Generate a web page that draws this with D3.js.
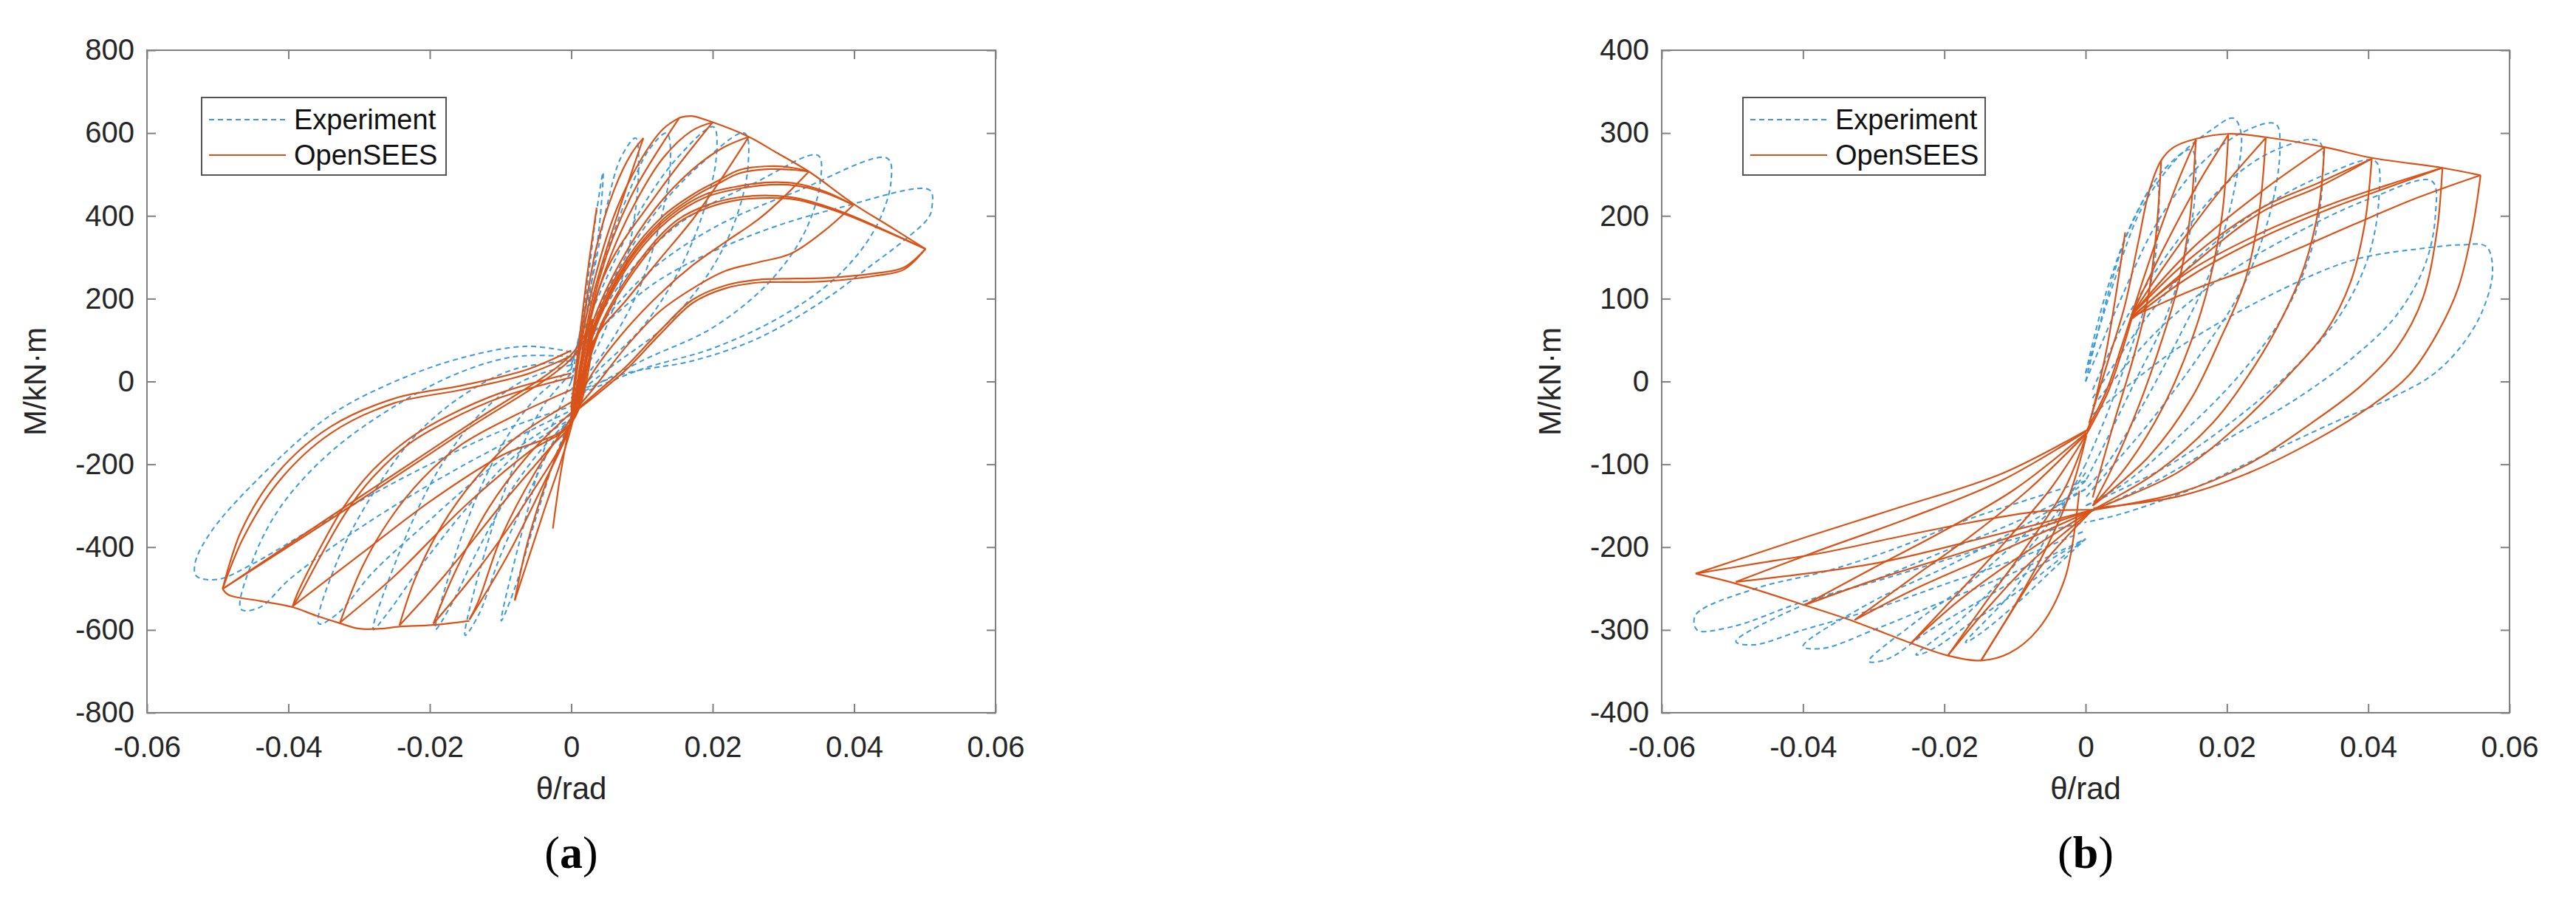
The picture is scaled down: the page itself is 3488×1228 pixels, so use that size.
<!DOCTYPE html>
<html>
<head>
<meta charset="utf-8">
<script src="https://cdn.jsdelivr.net/npm/d3@7"></script>
<style>
  body { margin: 0; background: #fff; }
  text { font-family: "Liberation Sans", Arial, sans-serif; }
</style>
</head>
<body>
<svg id="chart" width="3488" height="1228"></svg>
<script>
// ---- tick values / labels ----
var xTicks = [-0.06, -0.04, -0.02, 0, 0.02, 0.04, 0.06];
var xTickLabels = ["-0.06", "-0.04", "-0.02", "0", "0.02", "0.04", "0.06"];
var yTicksA = [-800, -600, -400, -200, 0, 200, 400, 600, 800];
var yTicksB = [-400, -300, -200, -100, 0, 100, 200, 300, 400];
var seriesNames = ["Experiment", "OpenSEES"];
var captions = ["a", "b"];

// ---- panel (a) : experiment, one leaf per half cycle [theta, M] ----
var expA = [
  [[0.0000,0],[0.0020,200],[0.0035,400],[0.0045,505],[0.0040,380],[0.0025,200],[0.0010,60],[0.0000,0]],
  [[0.0000,30],[0.0030,250],[0.0050,420],[0.0070,540],[0.0091,588],[0.0095,500],[0.0085,350],[0.0060,180],[0.0030,60],[0.0000,-20]],
  [[0.0000,40],[0.0040,260],[0.0080,450],[0.0110,560],[0.0135,600],[0.0140,520],[0.0125,380],[0.0095,220],[0.0050,80],[0.0000,-30]],
  [[0.0000,50],[0.0050,250],[0.0100,420],[0.0150,540],[0.0201,615],[0.0205,540],[0.0185,400],[0.0150,260],[0.0100,130],[0.0040,30],[0.0000,-40]],
  [[0.0010,60],[0.0060,250],[0.0120,410],[0.0180,520],[0.0245,600],[0.0250,520],[0.0230,380],[0.0190,250],[0.0130,130],[0.0060,40],[0.0000,-40]],
  [[0.0010,70],[0.0080,260],[0.0160,390],[0.0260,480],[0.0349,546],[0.0352,480],[0.0330,360],[0.0280,240],[0.0200,130],[0.0100,50],[0.0000,-40]],
  [[0.0010,70],[0.0100,250],[0.0200,370],[0.0320,460],[0.0447,539],[0.0452,480],[0.0430,370],[0.0380,260],[0.0300,160],[0.0200,80],[0.0100,30],[0.0000,-40]],
  [[0.0010,80],[0.0120,240],[0.0250,350],[0.0380,420],[0.0507,462],[0.0510,420],[0.0505,395],[0.0470,340],[0.0420,275],[0.0358,197],[0.0265,105],[0.0172,50],[0.0078,20],[0.0000,-30]],
  [[0.0000,71],[-0.0062,85],[-0.0155,57],[-0.0248,1],[-0.0341,-82],[-0.0435,-222],[-0.0509,-362],[-0.0532,-439],[-0.0530,-470],[-0.0500,-478],[-0.0450,-440],[-0.0380,-370],[-0.0300,-290],[-0.0200,-200],[-0.0100,-120],[0.0000,-60]],
  [[0.0000,60],[-0.0080,60],[-0.0160,20],[-0.0250,-60],[-0.0340,-170],[-0.0410,-300],[-0.0450,-430],[-0.0467,-550],[-0.0440,-545],[-0.0400,-480],[-0.0330,-390],[-0.0250,-300],[-0.0150,-200],[-0.0060,-120],[0.0000,-70]],
  [[0.0000,50],[-0.0080,30],[-0.0150,-30],[-0.0220,-130],[-0.0280,-270],[-0.0330,-430],[-0.0357,-585],[-0.0330,-560],[-0.0280,-460],[-0.0210,-350],[-0.0130,-230],[-0.0050,-130],[0.0000,-80]],
  [[0.0000,40],[-0.0070,0],[-0.0130,-80],[-0.0190,-220],[-0.0240,-400],[-0.0280,-599],[-0.0260,-560],[-0.0210,-440],[-0.0150,-310],[-0.0080,-180],[0.0000,-90]],
  [[0.0000,30],[-0.0050,-40],[-0.0100,-160],[-0.0150,-350],[-0.0192,-599],[-0.0170,-540],[-0.0130,-400],[-0.0080,-250],[-0.0030,-140],[0.0000,-90]],
  [[0.0000,20],[-0.0040,-60],[-0.0080,-200],[-0.0120,-400],[-0.0150,-613],[-0.0130,-560],[-0.0100,-420],[-0.0060,-270],[-0.0020,-130],[0.0000,-90]],
  [[0.0000,0],[-0.0030,-120],[-0.0060,-300],[-0.0099,-578],[-0.0080,-500],[-0.0050,-330],[-0.0020,-170],[0.0000,-90]]
];

// ---- panel (a) : OpenSEES branches ----
var opsA = [
  // reloading towards positive peaks
  [[0.0000,-60],[0.0010,80],[0.0022,250],[0.0036,420]],
  [[0.0000,-70],[0.0015,120],[0.0035,320],[0.0060,460],[0.0085,550],[0.0102,588]],
  [[0.0000,-80],[0.0015,100],[0.0035,260],[0.0065,420],[0.0100,540],[0.0130,610],[0.0153,637]],
  [[0.0005,-60],[0.0025,140],[0.0055,300],[0.0090,430],[0.0130,540],[0.0170,605],[0.0200,626]],
  [[0.0005,-60],[0.0030,140],[0.0070,290],[0.0120,420],[0.0170,510],[0.0215,565],[0.0251,591]],
  [[0.0008,-50],[0.0035,150],[0.0080,300],[0.0130,400],[0.0175,455],[0.0208,485],[0.0238,511],[0.0281,520],[0.0313,516],[0.0336,507]],
  [[0.0008,-55],[0.0035,140],[0.0080,292],[0.0130,392],[0.0175,448],[0.0208,478],[0.0238,503],[0.0281,513],[0.0313,511],[0.0336,507]],
  [[0.0008,-50],[0.0035,140],[0.0090,310],[0.0140,400],[0.0190,452],[0.0238,472],[0.0281,481],[0.0318,478],[0.0360,458],[0.0398,427]],
  [[0.0008,-55],[0.0035,132],[0.0090,302],[0.0140,393],[0.0190,445],[0.0238,466],[0.0281,475],[0.0318,473],[0.0360,455],[0.0398,427]],
  [[0.0010,-50],[0.0040,130],[0.0100,300],[0.0150,390],[0.0194,427],[0.0238,445],[0.0281,449],[0.0318,443],[0.0384,409],[0.0440,368],[0.0501,320]],
  [[0.0010,-55],[0.0040,122],[0.0100,292],[0.0150,382],[0.0194,420],[0.0238,439],[0.0281,443],[0.0318,439],[0.0384,406],[0.0440,366],[0.0501,320]],
  // positive envelope
  [[0.0153,637],[0.0170,641],[0.0200,626],[0.0251,591],[0.0290,553],[0.0336,507],[0.0400,428],[0.0450,375],[0.0501,320]],
  // unloading from positive peaks
  [[0.0102,588],[0.0065,400],[0.0030,200],[0.0000,-100]],
  [[0.0153,637],[0.0084,445],[0.0040,250],[0.0000,-100]],
  [[0.0200,626],[0.0120,450],[0.0045,250],[0.0000,-100]],
  [[0.0251,591],[0.0218,504],[0.0172,392],[0.0125,295],[0.0078,197],[0.0032,99],[0.0000,-90]],
  [[0.0336,507],[0.0302,448],[0.0265,392],[0.0218,337],[0.0172,281],[0.0125,211],[0.0078,127],[0.0030,20],[0.0000,-80]],
  [[0.0400,428],[0.0358,364],[0.0311,309],[0.0265,288],[0.0218,267],[0.0172,225],[0.0125,169],[0.0078,85],[0.0030,-20],[0.0000,-80]],
  [[0.0501,320],[0.0470,270],[0.0433,256],[0.0358,242],[0.0300,240],[0.0265,239],[0.0218,225],[0.0172,190],[0.0125,113],[0.0078,29],[0.0030,-40],[0.0000,-80]],
  [[0.0501,320],[0.0470,275],[0.0433,262],[0.0358,250],[0.0300,248],[0.0265,246],[0.0218,232],[0.0172,198],[0.0125,122],[0.0078,37],[0.0030,-35],[0.0000,-80]],
  // reloading towards negative peaks
  [[0.0000,75],[-0.0062,29],[-0.0155,-10],[-0.0248,-40],[-0.0341,-110],[-0.0416,-222],[-0.0467,-362],[-0.0493,-501]],
  [[0.0000,62],[-0.0062,18],[-0.0155,-20],[-0.0250,-52],[-0.0340,-125],[-0.0412,-238],[-0.0463,-375],[-0.0493,-501]],
  [[0.0000,20],[-0.0099,-27],[-0.0173,-82],[-0.0229,-138],[-0.0285,-222],[-0.0323,-306],[-0.0360,-418],[-0.0388,-515],[-0.0394,-543]],
  [[0.0000,10],[-0.0099,-38],[-0.0173,-94],[-0.0229,-150],[-0.0283,-236],[-0.0320,-320],[-0.0357,-430],[-0.0386,-522],[-0.0394,-543]],
  [[0.0000,-20],[-0.0080,-82],[-0.0155,-152],[-0.0211,-236],[-0.0257,-334],[-0.0295,-446],[-0.0327,-582]],
  [[0.0000,-50],[-0.0080,-138],[-0.0136,-236],[-0.0183,-348],[-0.0220,-473],[-0.0243,-589]],
  [[0.0000,-75],[-0.0062,-180],[-0.0117,-306],[-0.0164,-459],[-0.0195,-585]],
  [[0.0000,-89],[-0.0052,-222],[-0.0099,-376],[-0.0131,-529],[-0.0144,-575]],
  [[0.0000,-96],[-0.0034,-236],[-0.0062,-390],[-0.0080,-529]],
  [[0.0000,-82],[-0.0015,-222],[-0.0026,-355]],
  // negative envelope
  [[-0.0493,-501],[-0.0485,-515],[-0.0440,-530],[-0.0394,-545],[-0.0360,-566],[-0.0327,-584],[-0.0300,-597],[-0.0270,-597],[-0.0243,-592],[-0.0195,-588],[-0.0144,-578]],
  // unloading from negative peaks
  [[-0.0493,-501],[-0.0300,-280],[-0.0150,-110],[0.0000,65],[0.0030,150]],
  [[-0.0493,-501],[-0.0300,-288],[-0.0150,-118],[0.0000,55],[0.0030,140]],
  [[-0.0394,-543],[-0.0300,-420],[-0.0200,-290],[-0.0100,-180],[0.0000,-100],[0.0030,100]],
  [[-0.0327,-582],[-0.0250,-470],[-0.0150,-300],[-0.0060,-170],[0.0000,-100],[0.0030,120]],
  [[-0.0243,-589],[-0.0180,-470],[-0.0100,-300],[-0.0030,-160],[0.0000,-100],[0.0030,140]],
  [[-0.0195,-585],[-0.0130,-450],[-0.0060,-280],[0.0000,-100],[0.0030,150]],
  [[-0.0144,-575],[-0.0090,-420],[-0.0040,-250],[0.0000,-100],[0.0030,150]],
  [[-0.0080,-529],[-0.0040,-320],[0.0000,-110],[0.0030,150]]
];

// ---- panel (b) : experiment leaves ----
var expB = [
  [[0.0000,0],[0.0030,100],[0.0060,180],[0.0100,240],[0.0103,190],[0.0090,110],[0.0060,30],[0.0030,-40],[0.0000,-100]],
  [[0.0000,10],[0.0030,110],[0.0070,200],[0.0110,255],[0.0150,280],[0.0155,230],[0.0140,150],[0.0110,70],[0.0070,0],[0.0030,-70],[0.0000,-120]],
  [[0.0000,10],[0.0040,120],[0.0080,210],[0.0130,270],[0.0180,305],[0.0209,318],[0.0220,300],[0.0210,230],[0.0180,140],[0.0130,50],[0.0080,-30],[0.0030,-100],[0.0000,-130]],
  [[0.0000,0],[0.0050,100],[0.0100,190],[0.0160,260],[0.0220,300],[0.0269,311],[0.0275,280],[0.0260,200],[0.0220,110],[0.0160,30],[0.0090,-50],[0.0030,-110],[0.0000,-140]],
  [[0.0010,-10],[0.0060,80],[0.0130,170],[0.0200,240],[0.0270,280],[0.0330,290],[0.0335,240],[0.0320,160],[0.0280,80],[0.0220,10],[0.0140,-60],[0.0060,-120],[0.0000,-150]],
  [[0.0010,-20],[0.0080,70],[0.0160,150],[0.0250,210],[0.0340,250],[0.0410,266],[0.0415,220],[0.0400,150],[0.0360,80],[0.0300,20],[0.0220,-40],[0.0120,-100],[0.0000,-150]],
  [[0.0010,-30],[0.0100,60],[0.0200,130],[0.0300,180],[0.0400,220],[0.0490,242],[0.0495,200],[0.0480,140],[0.0440,80],[0.0380,30],[0.0300,-20],[0.0200,-70],[0.0100,-120],[0.0000,-160]],
  [[0.0010,-40],[0.0130,40],[0.0280,112],[0.0380,147],[0.0480,161],[0.0532,165],[0.0567,163],[0.0576,133],[0.0561,84],[0.0531,42],[0.0491,8],[0.0432,-20],[0.0350,-50],[0.0250,-90],[0.0150,-130],[0.0050,-160],[0.0000,-170]],
  [[0.0000,-120],[-0.0068,-139],[-0.0168,-167],[-0.0267,-201],[-0.0367,-229],[-0.0467,-250],[-0.0552,-282],[-0.0550,-300],[-0.0500,-296],[-0.0400,-266],[-0.0300,-242],[-0.0200,-216],[-0.0100,-190],[0.0000,-170]],
  [[0.0000,-130],[-0.0100,-170],[-0.0200,-205],[-0.0300,-240],[-0.0400,-270],[-0.0495,-314],[-0.0470,-318],[-0.0400,-300],[-0.0300,-275],[-0.0200,-245],[-0.0100,-215],[0.0000,-180]],
  [[0.0000,-130],[-0.0100,-180],[-0.0200,-225],[-0.0300,-265],[-0.0400,-320],[-0.0370,-322],[-0.0300,-300],[-0.0200,-265],[-0.0100,-230],[0.0000,-190]],
  [[0.0000,-120],[-0.0080,-180],[-0.0160,-240],[-0.0240,-290],[-0.0307,-338],[-0.0280,-335],[-0.0220,-300],[-0.0140,-260],[-0.0060,-220],[0.0000,-190]],
  [[0.0000,-110],[-0.0060,-180],[-0.0120,-240],[-0.0180,-290],[-0.0240,-330],[-0.0220,-325],[-0.0160,-290],[-0.0090,-250],[-0.0030,-210],[0.0000,-190]],
  [[0.0000,-100],[-0.0050,-180],[-0.0100,-250],[-0.0170,-315],[-0.0150,-305],[-0.0100,-270],[-0.0050,-230],[0.0000,-190]]
];

// ---- panel (b) : OpenSEES branches ----
var opsB = [
  // positive envelope (initial loading)
  [[0.0005,-50],[0.0030,20],[0.0055,90],[0.0075,170],[0.0090,230],[0.0107,267],[0.0125,283],[0.0156,293],[0.0202,299],[0.0255,295],[0.0338,283],[0.0405,270],[0.0505,258],[0.0559,249]],
  [[0.0003,-60],[0.0030,40],[0.0056,180]],
  // central rise to the knee
  [[0.0001,-60],[0.0030,-10],[0.0050,40],[0.0065,80]],
  [[0.0001,-64],[0.0032,-12],[0.0052,38],[0.0066,78]],
  // from the knee to the positive peaks
  [[0.0065,80],[0.0100,170],[0.0130,240],[0.0156,292]],
  [[0.0065,80],[0.0110,160],[0.0160,240],[0.0202,298]],
  [[0.0065,80],[0.0120,150],[0.0190,230],[0.0255,294]],
  [[0.0065,80],[0.0150,160],[0.0250,230],[0.0338,283]],
  [[0.0065,80],[0.0150,150],[0.0250,210],[0.0330,240],[0.0405,269]],
  [[0.0066,78],[0.0150,140],[0.0250,205],[0.0330,235],[0.0405,269]],
  [[0.0065,78],[0.0150,135],[0.0250,180],[0.0350,215],[0.0430,238],[0.0505,258]],
  [[0.0066,76],[0.0150,128],[0.0250,174],[0.0350,210],[0.0430,235],[0.0505,258]],
  [[0.0065,78],[0.0150,110],[0.0229,135],[0.0300,160],[0.0378,189],[0.0470,222],[0.0559,249]],
  // unloading from positive peaks
  [[0.0107,267],[0.0100,180],[0.0088,100],[0.0068,30],[0.0040,-50],[0.0010,-140]],
  [[0.0156,292],[0.0148,200],[0.0132,120],[0.0108,50],[0.0075,-30],[0.0040,-100],[0.0010,-150]],
  [[0.0202,298],[0.0193,200],[0.0175,120],[0.0150,50],[0.0110,-30],[0.0060,-100],[0.0010,-150]],
  [[0.0255,294],[0.0245,200],[0.0225,120],[0.0190,50],[0.0150,-20],[0.0090,-90],[0.0010,-150]],
  [[0.0338,283],[0.0330,210],[0.0310,140],[0.0280,80],[0.0240,20],[0.0180,-50],[0.0100,-110],[0.0010,-155]],
  [[0.0405,269],[0.0395,190],[0.0375,120],[0.0340,60],[0.0290,10],[0.0220,-50],[0.0130,-110],[0.0010,-155]],
  [[0.0505,258],[0.0497,180],[0.0477,100],[0.0440,40],[0.0390,-5],[0.0320,-50],[0.0230,-100],[0.0130,-135],[0.0010,-155]],
  [[0.0559,249],[0.0547,182],[0.0527,112],[0.0497,57],[0.0458,8],[0.0408,-27],[0.0329,-69],[0.0229,-111],[0.0130,-139],[0.0011,-153]],
  // reloading towards negative peaks
  [[0.0010,-155],[-0.0068,-157],[-0.0168,-171],[-0.0267,-188],[-0.0367,-206],[-0.0467,-220],[-0.0552,-232]],
  [[0.0010,-155],[-0.0150,-190],[-0.0300,-220],[-0.0495,-242]],
  [[0.0010,-155],[-0.0150,-200],[-0.0300,-240],[-0.0398,-270]],
  [[0.0010,-155],[-0.0120,-205],[-0.0240,-250],[-0.0327,-288]],
  [[0.0010,-155],[-0.0100,-215],[-0.0180,-265],[-0.0247,-316]],
  [[0.0010,-155],[-0.0080,-220],[-0.0140,-275],[-0.0195,-331]],
  [[0.0010,-155],[-0.0060,-220],[-0.0110,-285],[-0.0148,-337]],
  // negative envelope
  [[-0.0552,-232],[-0.0495,-244],[-0.0398,-270],[-0.0327,-290],[-0.0247,-316],[-0.0195,-331],[-0.0148,-337],[-0.0108,-328],[-0.0068,-300],[-0.0029,-237],[-0.0009,-132]],
  // unloading from negative peaks
  [[-0.0552,-232],[-0.0396,-188],[-0.0267,-153],[-0.0118,-111],[0.0001,-59]],
  [[-0.0495,-242],[-0.0380,-205],[-0.0250,-165],[-0.0120,-120],[0.0001,-60]],
  [[-0.0398,-270],[-0.0300,-225],[-0.0200,-180],[-0.0100,-130],[0.0001,-62]],
  [[-0.0327,-288],[-0.0250,-240],[-0.0160,-185],[-0.0080,-130],[0.0001,-63]],
  [[-0.0247,-316],[-0.0180,-255],[-0.0110,-190],[-0.0050,-130],[0.0001,-64]],
  [[-0.0195,-331],[-0.0140,-265],[-0.0080,-195],[-0.0030,-130],[0.0001,-65]],
  [[-0.0148,-337],[-0.0100,-270],[-0.0055,-200],[-0.0020,-130],[0.0001,-66]]
];

var svg = d3.select("#chart");
var expColor = "#3b9ad9", opsColor = "#d95319", axisColor = "#808080", textColor = "#262626";

function drawPanel(p) {
  var x = d3.scaleLinear().domain([-0.06, 0.06]).range([p.left, p.left + p.width]);
  var y = d3.scaleLinear().domain([p.yTicks[0], p.yTicks[p.yTicks.length - 1]]).range([p.top + p.height, p.top]);
  var g = svg.append("g");

  g.append("clipPath").attr("id", "clip-" + p.name)
    .append("rect").attr("x", p.left).attr("y", p.top).attr("width", p.width).attr("height", p.height);

  var line = d3.line()
    .x(function(d) { return x(d[0]); })
    .y(function(d) { return y(d[1]); })
    .curve(d3.curveCatmullRom.alpha(0.5));

  var plot = g.append("g").attr("clip-path", "url(#clip-" + p.name + ")");
  plot.selectAll("path.exp").data(p.exp).join("path")
    .attr("class", "exp").attr("d", line)
    .attr("fill", "none").attr("stroke", expColor).attr("stroke-width", 2)
    .attr("stroke-dasharray", "7,5");
  plot.selectAll("path.ops").data(p.ops).join("path")
    .attr("class", "ops").attr("d", line)
    .attr("fill", "none").attr("stroke", opsColor).attr("stroke-width", 2.2)
    .attr("stroke-linejoin", "round");

  // axes, ticks pointing inward like matlab
  var bottom = g.append("g").attr("transform", "translate(0," + (p.top + p.height) + ")")
    .call(d3.axisBottom(x).tickValues(xTicks).tickFormat(function(d, i) { return xTickLabels[i]; })
      .tickSize(-12).tickPadding(32));
  var left = g.append("g").attr("transform", "translate(" + p.left + ",0)")
    .call(d3.axisLeft(y).tickValues(p.yTicks).tickFormat(function(d) { return String(d); })
      .tickSize(-12).tickPadding(17));
  var top = g.append("g").attr("transform", "translate(0," + p.top + ")")
    .call(d3.axisTop(x).tickValues(xTicks).tickFormat("").tickSize(-12));
  var right = g.append("g").attr("transform", "translate(" + (p.left + p.width) + ",0)")
    .call(d3.axisRight(y).tickValues(p.yTicks).tickFormat("").tickSize(-12));
  [bottom, left, top, right].forEach(function(a) {
    a.select(".domain").remove();
    a.selectAll(".tick line").attr("stroke", axisColor).attr("stroke-width", 2);
    a.selectAll(".tick text").attr("fill", textColor).attr("font-size", 40)
      .attr("font-family", "'Liberation Sans', Arial, sans-serif");
  });
  g.append("rect").attr("x", p.left).attr("y", p.top).attr("width", p.width).attr("height", p.height)
    .attr("fill", "none").attr("stroke", axisColor).attr("stroke-width", 2);

  // axis titles
  g.append("text").attr("x", p.left + p.width / 2).attr("y", p.top + p.height + 117)
    .attr("text-anchor", "middle").attr("font-size", 42).attr("fill", textColor).text("θ/rad");
  g.append("text").attr("transform", "translate(" + (p.left - 137) + "," + (p.top + p.height / 2) + ") rotate(-90)")
    .attr("text-anchor", "middle").attr("font-size", 42).attr("fill", textColor).text("M/kN·m");

  // legend
  var lg = g.append("g").attr("transform", "translate(" + p.legendX + "," + 132 + ")");
  lg.append("rect").attr("width", p.legendW).attr("height", 105)
    .attr("fill", "#fff").attr("stroke", "#555").attr("stroke-width", 2);
  seriesNames.forEach(function(name, i) {
    var ly = 30 + i * 48;
    lg.append("line").attr("x1", 10).attr("x2", 114).attr("y1", ly).attr("y2", ly)
      .attr("stroke", i === 0 ? expColor : opsColor).attr("stroke-width", 2.2)
      .attr("stroke-dasharray", i === 0 ? "7,5" : null);
    lg.append("text").attr("x", 125).attr("y", ly + 13).attr("font-size", 38)
      .attr("fill", "#111").text(name);
  });

  // caption
  var cap = g.append("text").attr("x", p.left + p.width / 2).attr("y", p.top + p.height + 210)
    .attr("text-anchor", "middle").attr("font-size", 62).attr("fill", "#000")
    .style("font-family", "'Liberation Serif', 'DejaVu Serif', serif");
  cap.append("tspan").text("(");
  cap.append("tspan").attr("font-weight", "bold").text(p.caption);
  cap.append("tspan").text(")");
}

drawPanel({ name: "a", left: 199, top: 68, width: 1149, height: 897, yTicks: yTicksA,
  exp: expA, ops: opsA, legendX: 273, legendW: 331, caption: captions[0] });
drawPanel({ name: "b", left: 2250, top: 68, width: 1148, height: 897, yTicks: yTicksB,
  exp: expB, ops: opsB, legendX: 2360, legendW: 328, caption: captions[1] });
</script>
</body>
</html>
